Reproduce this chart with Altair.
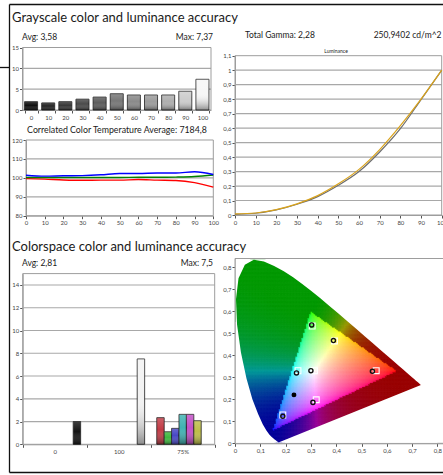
import altair as alt
import numpy as np
import pandas as pd

alt.data_transformers.disable_max_rows()

W, H = 443, 475
FONT = "Lato"

# ---------------- data ----------------
gs_levels = ["0", "10", "20", "30", "40", "50", "60", "70", "80", "90", "100"]
gs_delta_e = [2.0, 1.7, 2.0, 2.6, 3.1, 3.9, 3.6, 3.6, 3.6, 4.5, 7.37]
gs_shade = ["#101010", "#262626", "#383838", "#4a4a4a", "#5c5c5c", "#777777",
            "#8a8a8a", "#9c9c9c", "#aeaeae", "#cdcdcd", "#f6f6f6"]

cct_level = [0, 10, 20, 30, 40, 50, 60, 70, 80, 90, 100]
cct_red = [99.6, 99.3, 98.9, 98.7, 98.8, 98.8, 99.1, 98.8, 98.6, 97.5, 95.1]
cct_green = [100.2, 100.2, 100.2, 100.2, 100.2, 100.2, 100.3, 100.3, 100.4, 100.7, 101.5]
cct_blue = [101.4, 100.9, 101.1, 101.2, 101.6, 102.3, 102.3, 102.6, 102.6, 103.2, 101.8]

lum_level = [0, 10, 20, 30, 40, 50, 60, 70, 80, 90, 100]
lum_target = [0.005, 0.012, 0.035, 0.074, 0.127, 0.205, 0.300, 0.435, 0.596, 0.797, 1.0]
lum_measured = [0.008, 0.014, 0.037, 0.077, 0.134, 0.215, 0.315, 0.452, 0.617, 0.800, 1.0]

cs_group = ["0", "100", "75%", "75%", "75%", "75%", "75%", "75%"]
cs_patch = ["gray", "gray", "red", "green", "blue", "cyan", "magenta", "yellow"]
cs_delta_e = [2.0, 7.5, 2.34, 1.1, 1.4, 2.63, 2.63, 2.07]
cs_shade = ["#141414", "#f2f2f2", "#c23b45", "#3fb83f", "#4848c6", "#3fb2b2", "#c24fc6", "#bdbd48"]
cs_groups = ["0", "100", "75%"]
cs_slots = ["red", "green", "blue", "cyan", "magenta", "yellow", "gray"]

# CIE 1931 spectral locus (380-700 nm)
locus_x = [0.1741, 0.1740, 0.1738, 0.1736, 0.1733, 0.1730, 0.1726, 0.1721, 0.1714, 0.1703,
           0.1689, 0.1669, 0.1644, 0.1611, 0.1566, 0.1510, 0.1440, 0.1355, 0.1241, 0.1096,
           0.0913, 0.0687, 0.0454, 0.0235, 0.0082, 0.0039, 0.0139, 0.0389, 0.0743, 0.1142,
           0.1547, 0.1929, 0.2296, 0.2658, 0.3016, 0.3373, 0.3731, 0.4087, 0.4441, 0.4788,
           0.5125, 0.5448, 0.5752, 0.6029, 0.6270, 0.6482, 0.6658, 0.6801, 0.6915, 0.7006,
           0.7079, 0.7140, 0.7190, 0.7230, 0.7260, 0.7283, 0.7300, 0.7311, 0.7320, 0.7334, 0.7347]
locus_y = [0.0050, 0.0050, 0.0049, 0.0049, 0.0048, 0.0048, 0.0048, 0.0048, 0.0051, 0.0058,
           0.0069, 0.0086, 0.0109, 0.0138, 0.0177, 0.0227, 0.0297, 0.0399, 0.0578, 0.0868,
           0.1327, 0.2007, 0.2950, 0.4127, 0.5384, 0.6548, 0.7502, 0.8120, 0.8338, 0.8262,
           0.8059, 0.7816, 0.7543, 0.7243, 0.6923, 0.6589, 0.6245, 0.5896, 0.5547, 0.5202,
           0.4866, 0.4544, 0.4242, 0.3965, 0.3725, 0.3514, 0.3340, 0.3197, 0.3083, 0.2993,
           0.2920, 0.2859, 0.2809, 0.2770, 0.2740, 0.2717, 0.2700, 0.2689, 0.2680, 0.2666, 0.2653]

meas_x = [0.543, 0.303, 0.189, 0.243, 0.308, 0.389, 0.300]
meas_y = [0.327, 0.538, 0.123, 0.320, 0.186, 0.467, 0.330]
target_x = [0.558, 0.305, 0.189, 0.249, 0.321, 0.393, 0.314]
target_y = [0.330, 0.533, 0.129, 0.330, 0.198, 0.465, 0.330]
extra_x = [0.233]
extra_y = [0.220]

# ---------------- helpers ----------------
one = pd.DataFrame({"k": [0]})


def qscale(domain, rng):
    return alt.Scale(domain=domain, range=rng, nice=False, zero=False)


def xaxis(ypx, **kw):
    return alt.Axis(orient="bottom", offset=ypx - H, grid=False, title=None,
                    labelOverlap=False, labelFlush=False, **kw)


def yaxis(xpx, **kw):
    return alt.Axis(orient="left", offset=-xpx, grid=False, title=None,
                    labelOverlap=False, labelFlush=False, **kw)


def frame(x0, x1, y0, y1):
    return alt.Chart(one).mark_rect(fillOpacity=0, stroke="#9d9d9d", strokeWidth=1).encode(
        x=alt.value(x0), x2=alt.value(x1), y=alt.value(y0), y2=alt.value(y1))


def grid(vals, dom, rng, x0, x1):
    return alt.Chart(pd.DataFrame({"v": vals})).mark_rule(color="#a8a8a8", strokeWidth=1.2).encode(
        y=alt.Y("v:Q", scale=qscale(dom, rng), axis=None),
        x=alt.value(x0), x2=alt.value(x1))


def txt(s, x, y, size, align="left", color="#1a1a1a"):
    return alt.Chart(pd.DataFrame({"t": [s]})).mark_text(
        align=align, baseline="middle", fontSize=size, font=FONT, color=color).encode(
        text="t:N", x=alt.value(x), y=alt.value(y))


def rule(x0, y0, x1, y1, color="#111", w=1.3):
    return alt.Chart(one).mark_rule(color=color, strokeWidth=w).encode(
        x=alt.value(x0), y=alt.value(y0), x2=alt.value(x1), y2=alt.value(y1))


shine = alt.LinearGradient(
    gradient="linear", x1=0, x2=0, y1=0, y2=1,
    stops=[alt.GradientStop(color="rgba(255,255,255,0.18)", offset=0),
           alt.GradientStop(color="rgba(255,255,255,0)", offset=0.45),
           alt.GradientStop(color="rgba(0,0,0,0.42)", offset=1)])

comma = "replace(format(datum.value, '.1~f'), '.', ',')"

layers = []

# ---------------- panel A: grayscale delta E ----------------
A_X = [22.5, 211.0]
A_Y = [110.0, 47.5]
gs = pd.DataFrame({"level": gs_levels, "de": gs_delta_e, "shade": gs_shade})
layers.append(grid([5, 10], [0, 15], A_Y, A_X[0], A_X[1]))
layers.append(frame(A_X[0], A_X[1], A_Y[1], A_Y[0]))


def a_enc(with_axes):
    xs = alt.Scale(domain=gs_levels, range=A_X, paddingInner=0.24, paddingOuter=0.12)
    ys = qscale([0, 15], A_Y)
    if with_axes:
        return dict(x=alt.X("level:N", sort=gs_levels, scale=xs,
                            axis=xaxis(A_Y[0], labelAngle=0, tickBand="extent")),
                    y=alt.Y("de:Q", scale=ys, axis=yaxis(A_X[0], values=[0, 5, 10, 15])))
    return dict(x=alt.X("level:N", sort=gs_levels, scale=xs, axis=None),
                y=alt.Y("de:Q", scale=ys, axis=None))


layers.append(alt.Chart(gs).mark_bar(stroke="#1a1a1a", strokeWidth=0.8).encode(
    color=alt.Color("shade:N", scale=None), **a_enc(True)))
layers.append(alt.Chart(gs).mark_bar(color=shine).encode(**a_enc(False)))

# ---------------- panel B: CCT ----------------
B_X = [26.0, 213.3]
B_Y = [215.7, 140.0]
cct = pd.DataFrame({
    "level": cct_level * 3,
    "val": cct_red + cct_green + cct_blue,
    "ch": ["red"] * 11 + ["green"] * 11 + ["blue"] * 11})
layers.append(grid([90, 100, 110], [80, 120], B_Y, B_X[0], B_X[1]))
layers.append(frame(B_X[0], B_X[1], B_Y[1], B_Y[0]))
layers.append(alt.Chart(cct).mark_line(strokeWidth=1.4, interpolate="monotone").encode(
    x=alt.X("level:Q", scale=qscale([0, 100], B_X), axis=xaxis(B_Y[0], values=cct_level)),
    y=alt.Y("val:Q", scale=qscale([80, 120], B_Y), axis=yaxis(B_X[0], values=[80, 90, 100, 110, 120])),
    color=alt.Color("ch:N", scale=alt.Scale(domain=["red", "green", "blue"],
                                            range=["#ff0000", "#008000", "#0000ff"]), legend=None),
    detail="ch:N"))

# ---------------- panel C: luminance ----------------
C_X = [235.0, 441.7]
C_Y = [215.0, 55.7]
lum = pd.DataFrame({
    "level": lum_level * 2,
    "val": lum_target + lum_measured,
    "s": ["target"] * 11 + ["measured"] * 11})
lum_ticks = [0, 0.1, 0.2, 0.3, 0.4, 0.5, 0.6, 0.7, 0.8, 0.9, 1.0, 1.1]
layers.append(grid(lum_ticks[1:-1], [0, 1.1], C_Y, C_X[0], C_X[1]))
layers.append(frame(C_X[0], C_X[1], C_Y[1], C_Y[0]))
layers.append(alt.Chart(lum).mark_line(strokeWidth=1.2, interpolate="monotone").encode(
    x=alt.X("level:Q", scale=qscale([0, 100], C_X), axis=xaxis(C_Y[0], values=lum_level)),
    y=alt.Y("val:Q", scale=qscale([0, 1.1], C_Y),
            axis=yaxis(C_X[0], values=lum_ticks, labelExpr=comma)),
    color=alt.Color("s:N", scale=alt.Scale(domain=["target", "measured"],
                                           range=["#6e6e6e", "#d9a31c"]), legend=None),
    detail="s:N"))

# ---------------- panel D: colorspace delta E ----------------
D_X = [22.7, 214.7]
D_Y = [444.3, 273.6]
cs = pd.DataFrame({"group": cs_group, "patch": cs_patch, "de": cs_delta_e, "shade": cs_shade})
layers.append(grid([2, 4, 6, 8, 10, 12, 14], [0, 15], D_Y, D_X[0], D_X[1]))
layers.append(frame(D_X[0], D_X[1], D_Y[1], D_Y[0]))


def d_enc(with_axes):
    xs = alt.Scale(domain=cs_groups, range=D_X, paddingInner=0, paddingOuter=0)
    ys = qscale([0, 15], D_Y)
    xo = alt.XOffset("patch:N", sort=cs_slots,
                     scale=alt.Scale(domain=cs_slots, paddingInner=0, paddingOuter=0.82))
    if with_axes:
        return dict(x=alt.X("group:N", sort=cs_groups, scale=xs,
                            axis=xaxis(D_Y[0], labelAngle=0, tickBand="extent")),
                    y=alt.Y("de:Q", scale=ys,
                            axis=yaxis(D_X[0], values=[0, 2, 4, 6, 8, 10, 12, 14])),
                    xOffset=xo)
    return dict(x=alt.X("group:N", sort=cs_groups, scale=xs, axis=None),
                y=alt.Y("de:Q", scale=ys, axis=None), xOffset=xo)


layers.append(alt.Chart(cs).mark_bar(stroke="#1a1a1a", strokeWidth=0.8).encode(
    color=alt.Color("shade:N", scale=None), **d_enc(True)))
layers.append(alt.Chart(cs).mark_bar(color=shine).encode(**d_enc(False)))

# ---------------- panel E: CIE 1931 diagram ----------------
E_X = [235.0, 442.5]
E_Y = [443.3, 258.5]
E_XD = [0, 0.82]
E_YD = [0, 0.84]
ex_scale = qscale(E_XD, E_X)
ey_scale = qscale(E_YD, E_Y)

# colour field of the chromaticity diagram (background)
step = 0.006
gx, gy = np.meshgrid(np.arange(step / 2, 0.75, step), np.arange(step / 2, 0.84, step))
gx = gx.ravel()
gy = gy.ravel()
vx = np.array(locus_x)
vy = np.array(locus_y)


def inside(px, py):
    res = np.zeros(px.shape, bool)
    j = len(vx) - 1
    for i in range(len(vx)):
        cond = ((vy[i] > py) != (vy[j] > py)) & (
            px < (vx[j] - vx[i]) * (py - vy[i]) / (vy[j] - vy[i] + 1e-12) + vx[i])
        res ^= cond
        j = i
    return res


h = step * 0.75
ins = inside(gx, gy)
for dx, dy in [(-h, -h), (h, -h), (-h, h), (h, h)]:
    ins |= inside(gx + dx, gy + dy)
gx = gx[ins]
gy = gy[ins]
XYZ = np.stack([gx / gy, np.ones_like(gx), (1 - gx - gy) / gy])
M = np.array([[3.2406, -1.5372, -0.4986], [-0.9689, 1.8758, 0.0415], [0.0557, -0.2040, 1.0570]])
rgb = M @ XYZ
in_gamut = (rgb >= 0).all(axis=0)
clipped = np.clip(rgb, 0, None)
norm = clipped / clipped.max(axis=0)
srgb = np.where(norm <= 0.0031308, 12.92 * norm, 1.055 * np.power(norm, 1 / 2.4) - 0.055)
dark = np.power(norm, 1.5) * 0.6
col = np.where(in_gamut, srgb, dark)
col = np.clip(np.round(col * 255), 0, 255).astype(int)
hexes = ["#%02x%02x%02x" % (r, g, b) for r, g, b in col.T]
field = pd.DataFrame({
    "x0": np.maximum(gx - step / 2, 0.004), "x1": gx + step / 2,
    "y0": np.maximum(gy - step / 2, 0.004), "y1": np.minimum(gy + step / 2, 0.8345), "c": hexes})

layers.append(frame(E_X[0], E_X[1] + 5, E_Y[1], E_Y[0]))
layers.append(alt.Chart(field).mark_rect(strokeWidth=0.7).encode(
    x=alt.X("x0:Q", scale=ex_scale,
            axis=xaxis(E_Y[0], values=[0, 0.1, 0.2, 0.3, 0.4, 0.5, 0.6, 0.7, 0.8], labelExpr=comma)),
    x2="x1:Q",
    y=alt.Y("y0:Q", scale=ey_scale,
            axis=yaxis(E_X[0], values=[0, 0.1, 0.2, 0.3, 0.4, 0.5, 0.6, 0.7, 0.8], labelExpr=comma)),
    y2="y1:Q",
    color=alt.Color("c:N", scale=None),
    stroke=alt.Stroke("c:N", scale=None)))

# white mask outside the spectral locus (rectangle with the horseshoe cut out)
mx0, mx1, my0, my1 = 0.003, 0.80, 0.003, 0.837
mask_x = [mx0, mx0, mx1, mx1, locus_x[0], locus_x[0], locus_x[-1]] + locus_x[::-1] + [locus_x[0], mx0]
mask_y = [my0, my1, my1, my0, my0, locus_y[0], locus_y[-1]] + locus_y[::-1] + [my0, my0]
mask = pd.DataFrame({"x": mask_x, "y": mask_y, "o": list(range(len(mask_x)))})
layers.append(alt.Chart(mask).mark_line(fill="white", stroke="white", strokeWidth=0,
                                        interpolate="linear").encode(
    x=alt.X("x:Q", scale=ex_scale, axis=None),
    y=alt.Y("y:Q", scale=ey_scale, axis=None),
    order="o:Q"))

tgt = pd.DataFrame({"x": target_x, "y": target_y})
mea = pd.DataFrame({"x": meas_x, "y": meas_y})
ext = pd.DataFrame({"x": extra_x, "y": extra_y})
layers.append(alt.Chart(tgt).mark_point(shape="square", size=34, stroke="white", strokeWidth=1.1,
                                         filled=False, opacity=1).encode(
    x=alt.X("x:Q", scale=ex_scale, axis=None),
    y=alt.Y("y:Q", scale=ey_scale, axis=None)))
layers.append(alt.Chart(mea).mark_point(shape="circle", size=17, stroke="#111", strokeWidth=1.4,
                                         filled=False, opacity=1).encode(
    x=alt.X("x:Q", scale=ex_scale, axis=None),
    y=alt.Y("y:Q", scale=ey_scale, axis=None)))
layers.append(alt.Chart(ext).mark_circle(size=24, color="#000", opacity=1).encode(
    x=alt.X("x:Q", scale=ex_scale, axis=None),
    y=alt.Y("y:Q", scale=ey_scale, axis=None)))

# ---------------- texts ----------------
layers += [
    txt("Grayscale color and luminance accuracy", 12, 17.5, 13),
    txt("Avg: 3,58", 22, 36.5, 8.5),
    txt("Max: 7,37", 213, 36.5, 8.5, align="right"),
    txt("Correlated Color Temperature Average: 7184,8", 117, 130, 8.8, align="center"),
    txt("Total Gamma: 2,28", 245, 35, 8.5),
    txt("250,9402 cd/m^2", 441.5, 35, 8.5, align="right"),
    txt("Luminance", 336, 51, 5, align="center"),
    txt("Colorspace color and luminance accuracy", 12, 246.5, 13),
    txt("Avg: 2,81", 22, 263, 8.5),
    txt("Max: 7,5", 213, 263, 8.5, align="right"),
]

# ---------------- outer border ----------------
layers += [
    rule(9.5, 4.5, 9.5, 472.5),
    rule(9.5, 4.5, 443, 4.5),
    rule(9.5, 472.5, 443, 472.5),
    rule(0, 67.5, 9.5, 67.5),
]

chart = alt.layer(*layers).resolve_scale(
    x="independent", y="independent", color="independent", xOffset="independent"
).properties(
    width=W, height=H, padding=0, background="white",
    autosize=alt.AutoSizeParams(type="none"),
).configure_view(strokeWidth=0).configure_axis(
    labelFont=FONT, labelFontSize=6, labelColor="#444", labelPadding=1,
    tickColor="#555", tickSize=3, domainColor="#9d9d9d", domainWidth=1,
)

chart.save("out.html", embed_options={"renderer": "svg", "actions": False})
